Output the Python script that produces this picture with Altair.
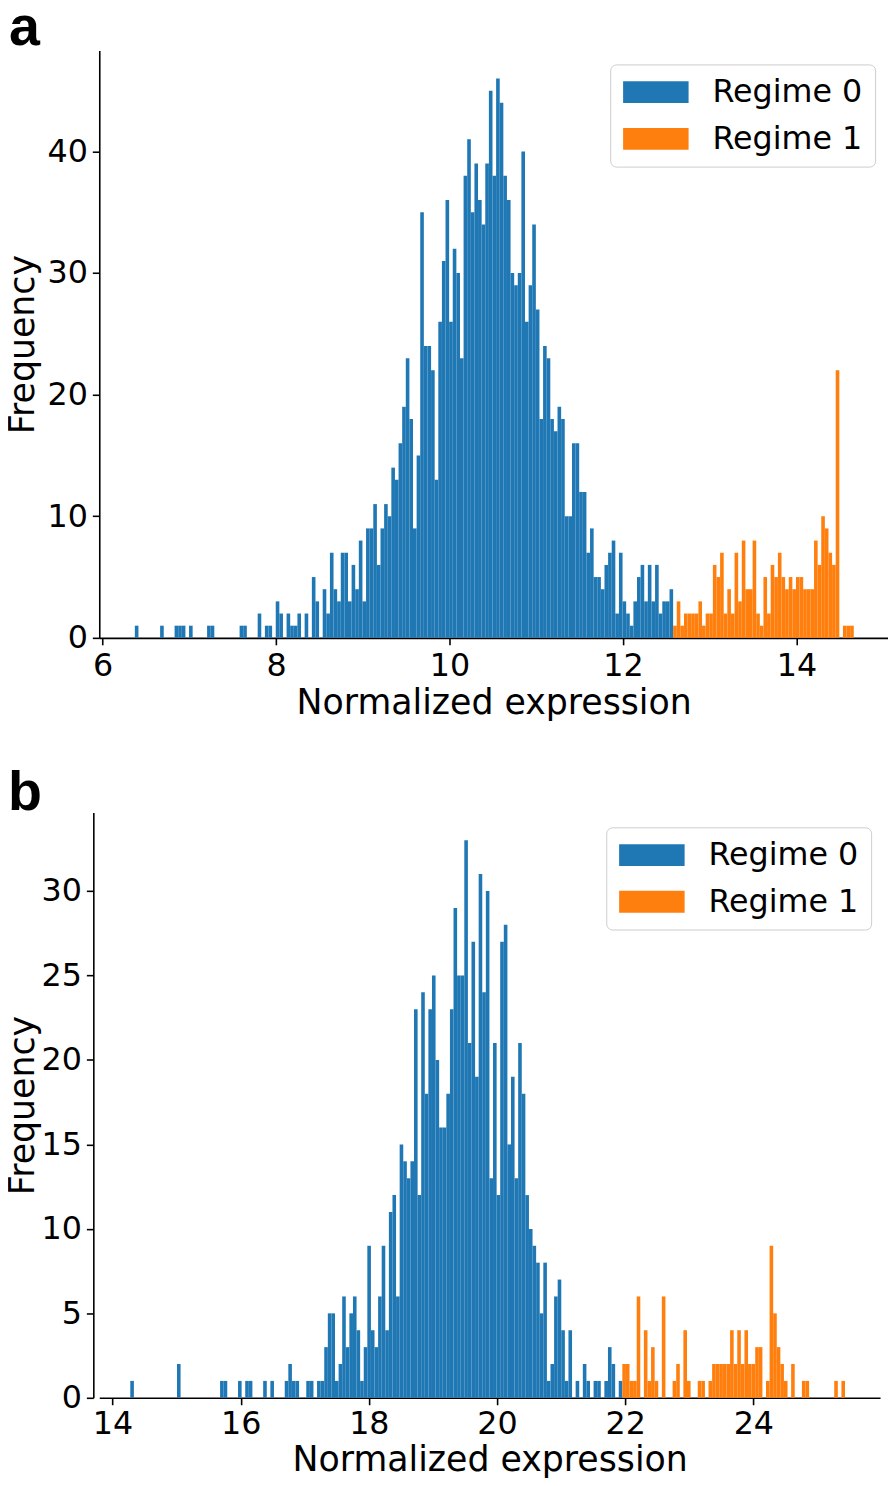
import altair as alt
import pandas as pd

# ---------------- data ----------------
# Panel a: common histogram bins starting at A_START, width A_WIDTH
A_START = 6.372
A_WIDTH = 0.04165
a_regime0_first_bin = 0
a_regime0 = [1, 0, 0, 0, 0, 0, 0, 1, 0, 0, 0, 1, 1, 1, 0, 1, 0, 0, 0, 0,
             1, 1, 0, 0, 0, 0, 0, 0, 0, 1, 1, 0, 0, 0, 2, 0, 1, 1, 0, 3,
             2, 0, 2, 1, 1, 2, 0, 2, 0, 5, 3, 0, 4, 2, 7, 4, 3, 7, 7, 3,
             6, 4, 8, 3, 9, 9, 11, 6, 9, 11, 10, 14, 13, 16, 19, 23, 18, 9, 15, 35,
             24, 24, 22, 13, 26, 31, 36, 26, 32, 30, 23, 38, 41, 35, 39, 36, 34, 39, 45, 38,
             46, 44, 38, 36, 30, 29, 30, 40, 26, 29, 34, 27, 18, 24, 23, 18, 17, 19, 18, 10,
             10, 16, 16, 12, 12, 7, 9, 5, 5, 4, 6, 7, 8, 2, 7, 3, 2, 1, 3, 5,
             6, 3, 6, 3, 6, 2, 3, 3, 4]
a_regime1_first_bin = 149
a_regime1 = [1, 3, 1, 2, 2, 2, 2, 3, 1, 2, 2, 6, 5, 7, 2, 4, 2, 7, 3, 8,
             4, 4, 8, 2, 1, 5, 2, 6, 5, 7, 5, 4, 5, 4, 5, 5, 4, 4, 4, 8,
             6, 10, 9, 7, 6, 22, 0, 1, 1, 1]

# Panel b
B_START = 14.278
B_WIDTH = 0.05604
b_regime0_first_bin = 0
b_regime0 = [1, 0, 0, 0, 0, 0, 0, 0, 0, 0, 0, 0, 0, 2, 0, 0, 0, 0, 0, 0,
             0, 0, 0, 0, 0, 1, 1, 0, 0, 0, 1, 0, 1, 1, 0, 0, 0, 1, 0, 1,
             0, 0, 0, 1, 2, 1, 1, 0, 0, 1, 1, 0, 1, 1, 3, 5, 5, 1, 2, 6,
             3, 5, 6, 4, 1, 3, 9, 4, 3, 6, 9, 4, 11, 12, 6, 15, 14, 13, 14, 23,
             12, 24, 18, 23, 25, 20, 16, 16, 18, 23, 29, 25, 25, 33, 21, 27, 19, 31, 24, 30,
             13, 21, 12, 27, 28, 15, 19, 13, 21, 18, 12, 10, 9, 8, 5, 8, 1, 2, 6, 7,
             4, 1, 4, 0, 1, 0, 2, 1, 0, 1, 1, 0, 1, 3, 2, 0, 1]
b_regime1_first_bin = 137
b_regime1 = [2, 2, 1, 1, 6, 0, 4, 1, 3, 1, 0, 6, 0, 0, 1, 2, 0, 4, 1, 0,
             0, 1, 1, 0, 1, 2, 2, 2, 2, 2, 4, 2, 4, 2, 4, 2, 2, 3, 3, 0,
             1, 9, 5, 3, 2, 1, 0, 2, 0, 0, 1, 1, 0, 0, 0, 0, 0, 0, 0, 1,
             0, 1]

regimes = ["Regime 0", "Regime 1"]
colors = ["#1f77b4", "#ff7f0e"]


def bins_table(start, width, series):
    rows = []
    for label, first, counts in series:
        for i, c in enumerate(counts):
            if c > 0:
                k = first + i
                rows.append({"x0": start + k * width,
                             "x1": start + (k + 1) * width,
                             "count": c,
                             "regime": label})
    return pd.DataFrame(rows)


df_a = bins_table(A_START, A_WIDTH, [("Regime 0", a_regime0_first_bin, a_regime0),
                                     ("Regime 1", a_regime1_first_bin, a_regime1)])
df_b = bins_table(B_START, B_WIDTH, [("Regime 0", b_regime0_first_bin, b_regime0),
                                     ("Regime 1", b_regime1_first_bin, b_regime1)])

FONT = "DejaVu Sans"


def panel(df, letter, xdom, xticks, ydom, yticks, w, h, ytitle_pad, y_offset, xlabel_pad,
          xtitle_pad, letter_x, letter_y, leg_x, leg_y):
    legend = alt.Legend(
        title=None, orient="none", legendX=leg_x, legendY=leg_y, padding=12,
        symbolType="M-3,-1H3V1H-3Z", symbolSize=484, symbolStrokeWidth=0,
        symbolOpacity=1, symbolOffset=18, labelOffset=41,
        labelFont=FONT, labelFontSize=32, labelColor="black", labelLimit=400,
        rowPadding=15, strokeColor="#cccccc", cornerRadius=6,
        fillColor="rgba(255,255,255,0.8)",
    )
    bars = alt.Chart(df).mark_bar(strokeWidth=0, opacity=1).encode(
        x=alt.X("x0:Q", scale=alt.Scale(domain=xdom, nice=False, zero=False),
                axis=alt.Axis(values=xticks, title="Normalized expression",
                              labelPadding=xlabel_pad, titlePadding=xtitle_pad,
                              labelFlush=False)),
        x2="x1:Q",
        y=alt.Y("count:Q", scale=alt.Scale(domain=ydom, nice=False),
                axis=alt.Axis(values=yticks, title="Frequency", offset=y_offset,
                              labelPadding=5, titlePadding=ytitle_pad)),
        y2=alt.datum(0),
        color=alt.Color("regime:N", scale=alt.Scale(domain=regimes, range=colors),
                        legend=legend),
    )
    tag = alt.Chart(pd.DataFrame({"t": [letter]})).mark_text(
        font="Liberation Sans", fontWeight="bold", fontSize=56,
        align="left", baseline="alphabetic", color="black",
    ).encode(x=alt.value(letter_x), y=alt.value(letter_y), text="t:N")
    return alt.layer(bars, tag).properties(width=w, height=h)


pa = panel(df_a, "a", [5.962, 15.055], [6, 8, 10, 12, 14], [0, 48.3], [0, 10, 20, 30, 40],
           795, 592, 7, 0, 6, 4, -91, -6, 515, 14)
pb = panel(df_b, "b", [13.794, 25.977], [14, 16, 18, 20, 22, 24], [0, 34.65],
           [0, 5, 10, 15, 20, 25, 30], 787, 590, 1, 6, 4, 3, -92, -2, 511, 15)

chart = alt.concat(pa, pb, columns=1, spacing=46, align="none").resolve_scale(
    color="independent"
).resolve_legend(color="independent").properties(
    padding={"left": -3, "top": -14, "right": 0, "bottom": -1}
).configure_view(stroke=None).configure_axis(
    domainColor="black", domainWidth=1.6, tickColor="black", tickWidth=1.6, tickSize=7,
    labelFont=FONT, labelFontSize=32, labelColor="black",
    titleFont=FONT, titleFontSize=35, titleFontWeight="normal", titleColor="black",
    grid=False,
)

chart.save("out.html", embed_options={"renderer": "svg", "actions": False})
